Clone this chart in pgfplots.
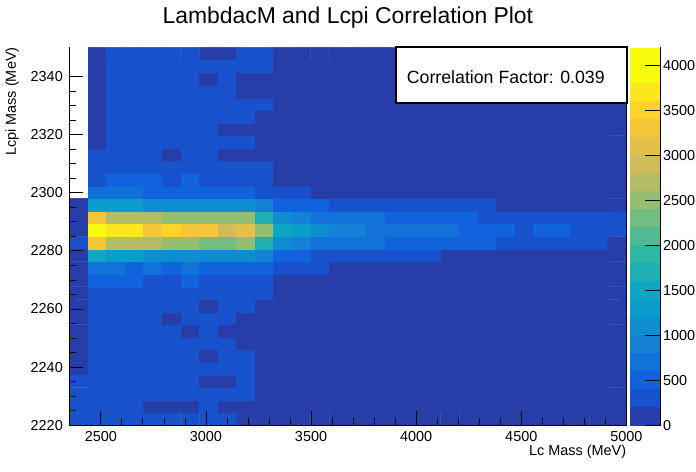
\documentclass[border=0pt]{standalone}
\usepackage{pgfplots}
\pgfplotsset{compat=1.18}
\usepackage{fontspec}
\setmainfont{Liberation Sans}
\newcommand{\tlfont}{\fontsize{14.5}{14.5}\selectfont}
\pgfplotstableread{
x y z
2394.2 2222.2 315
2482.5 2222.2 315
2570.8 2222.2 315
2659.2 2222.2 315
2747.5 2222.2 315
2835.8 2222.2 315
2924.2 2222.2 315
3012.5 2222.2 315
3100.8 2222.2 315
3189.2 2222.2 105
3277.5 2222.2 105
3365.8 2222.2 105
3454.2 2222.2 105
3542.5 2222.2 105
3630.8 2222.2 105
3719.2 2222.2 105
3807.5 2222.2 105
3895.8 2222.2 105
3984.2 2222.2 105
4072.5 2222.2 105
4160.8 2222.2 105
4249.2 2222.2 105
4337.5 2222.2 105
4425.8 2222.2 105
4514.2 2222.2 105
4602.5 2222.2 105
4690.8 2222.2 105
4779.2 2222.2 105
4867.5 2222.2 105
4955.8 2222.2 105
2394.2 2226.5 315
2482.5 2226.5 315
2570.8 2226.5 315
2659.2 2226.5 315
2747.5 2226.5 105
2835.8 2226.5 105
2924.2 2226.5 105
3012.5 2226.5 315
3100.8 2226.5 105
3189.2 2226.5 105
3277.5 2226.5 105
3365.8 2226.5 105
3454.2 2226.5 105
3542.5 2226.5 105
3630.8 2226.5 105
3719.2 2226.5 105
3807.5 2226.5 105
3895.8 2226.5 105
3984.2 2226.5 105
4072.5 2226.5 105
4160.8 2226.5 105
4249.2 2226.5 105
4337.5 2226.5 105
4425.8 2226.5 105
4514.2 2226.5 105
4602.5 2226.5 105
4690.8 2226.5 105
4779.2 2226.5 105
4867.5 2226.5 105
4955.8 2226.5 105
2394.2 2230.8 315
2482.5 2230.8 315
2570.8 2230.8 315
2659.2 2230.8 315
2747.5 2230.8 315
2835.8 2230.8 315
2924.2 2230.8 315
3012.5 2230.8 315
3100.8 2230.8 315
3189.2 2230.8 315
3277.5 2230.8 105
3365.8 2230.8 105
3454.2 2230.8 105
3542.5 2230.8 105
3630.8 2230.8 105
3719.2 2230.8 105
3807.5 2230.8 105
3895.8 2230.8 105
3984.2 2230.8 105
4072.5 2230.8 105
4160.8 2230.8 105
4249.2 2230.8 105
4337.5 2230.8 105
4425.8 2230.8 105
4514.2 2230.8 105
4602.5 2230.8 105
4690.8 2230.8 105
4779.2 2230.8 105
4867.5 2230.8 105
4955.8 2230.8 105
2394.2 2235.2 315
2482.5 2235.2 315
2570.8 2235.2 315
2659.2 2235.2 315
2747.5 2235.2 315
2835.8 2235.2 315
2924.2 2235.2 315
3012.5 2235.2 105
3100.8 2235.2 105
3189.2 2235.2 315
3277.5 2235.2 105
3365.8 2235.2 105
3454.2 2235.2 105
3542.5 2235.2 105
3630.8 2235.2 105
3719.2 2235.2 105
3807.5 2235.2 105
3895.8 2235.2 105
3984.2 2235.2 105
4072.5 2235.2 105
4160.8 2235.2 105
4249.2 2235.2 105
4337.5 2235.2 105
4425.8 2235.2 105
4514.2 2235.2 105
4602.5 2235.2 105
4690.8 2235.2 105
4779.2 2235.2 105
4867.5 2235.2 105
4955.8 2235.2 105
2394.2 2239.5 105
2482.5 2239.5 315
2570.8 2239.5 315
2659.2 2239.5 315
2747.5 2239.5 315
2835.8 2239.5 315
2924.2 2239.5 315
3012.5 2239.5 315
3100.8 2239.5 315
3189.2 2239.5 315
3277.5 2239.5 105
3365.8 2239.5 105
3454.2 2239.5 105
3542.5 2239.5 105
3630.8 2239.5 105
3719.2 2239.5 105
3807.5 2239.5 105
3895.8 2239.5 105
3984.2 2239.5 105
4072.5 2239.5 105
4160.8 2239.5 105
4249.2 2239.5 105
4337.5 2239.5 105
4425.8 2239.5 105
4514.2 2239.5 105
4602.5 2239.5 105
4690.8 2239.5 105
4779.2 2239.5 105
4867.5 2239.5 105
4955.8 2239.5 105
2394.2 2243.8 105
2482.5 2243.8 315
2570.8 2243.8 315
2659.2 2243.8 315
2747.5 2243.8 315
2835.8 2243.8 315
2924.2 2243.8 315
3012.5 2243.8 105
3100.8 2243.8 315
3189.2 2243.8 315
3277.5 2243.8 105
3365.8 2243.8 105
3454.2 2243.8 105
3542.5 2243.8 105
3630.8 2243.8 105
3719.2 2243.8 105
3807.5 2243.8 105
3895.8 2243.8 105
3984.2 2243.8 105
4072.5 2243.8 105
4160.8 2243.8 105
4249.2 2243.8 105
4337.5 2243.8 105
4425.8 2243.8 105
4514.2 2243.8 105
4602.5 2243.8 105
4690.8 2243.8 105
4779.2 2243.8 105
4867.5 2243.8 105
4955.8 2243.8 105
2394.2 2248.2 105
2482.5 2248.2 315
2570.8 2248.2 315
2659.2 2248.2 315
2747.5 2248.2 315
2835.8 2248.2 315
2924.2 2248.2 315
3012.5 2248.2 315
3100.8 2248.2 315
3189.2 2248.2 105
3277.5 2248.2 105
3365.8 2248.2 105
3454.2 2248.2 105
3542.5 2248.2 105
3630.8 2248.2 105
3719.2 2248.2 105
3807.5 2248.2 105
3895.8 2248.2 105
3984.2 2248.2 105
4072.5 2248.2 105
4160.8 2248.2 105
4249.2 2248.2 105
4337.5 2248.2 105
4425.8 2248.2 105
4514.2 2248.2 105
4602.5 2248.2 105
4690.8 2248.2 105
4779.2 2248.2 105
4867.5 2248.2 105
4955.8 2248.2 105
2394.2 2252.5 105
2482.5 2252.5 315
2570.8 2252.5 315
2659.2 2252.5 315
2747.5 2252.5 315
2835.8 2252.5 315
2924.2 2252.5 105
3012.5 2252.5 315
3100.8 2252.5 105
3189.2 2252.5 105
3277.5 2252.5 105
3365.8 2252.5 105
3454.2 2252.5 105
3542.5 2252.5 105
3630.8 2252.5 105
3719.2 2252.5 105
3807.5 2252.5 105
3895.8 2252.5 105
3984.2 2252.5 105
4072.5 2252.5 105
4160.8 2252.5 105
4249.2 2252.5 105
4337.5 2252.5 105
4425.8 2252.5 105
4514.2 2252.5 105
4602.5 2252.5 105
4690.8 2252.5 105
4779.2 2252.5 105
4867.5 2252.5 105
4955.8 2252.5 105
2394.2 2256.8 105
2482.5 2256.8 315
2570.8 2256.8 315
2659.2 2256.8 315
2747.5 2256.8 315
2835.8 2256.8 105
2924.2 2256.8 315
3012.5 2256.8 315
3100.8 2256.8 315
3189.2 2256.8 105
3277.5 2256.8 105
3365.8 2256.8 105
3454.2 2256.8 105
3542.5 2256.8 105
3630.8 2256.8 105
3719.2 2256.8 105
3807.5 2256.8 105
3895.8 2256.8 105
3984.2 2256.8 105
4072.5 2256.8 105
4160.8 2256.8 105
4249.2 2256.8 105
4337.5 2256.8 105
4425.8 2256.8 105
4514.2 2256.8 105
4602.5 2256.8 105
4690.8 2256.8 105
4779.2 2256.8 105
4867.5 2256.8 105
4955.8 2256.8 105
2394.2 2261.2 105
2482.5 2261.2 315
2570.8 2261.2 315
2659.2 2261.2 315
2747.5 2261.2 315
2835.8 2261.2 315
2924.2 2261.2 315
3012.5 2261.2 105
3100.8 2261.2 315
3189.2 2261.2 315
3277.5 2261.2 105
3365.8 2261.2 105
3454.2 2261.2 105
3542.5 2261.2 105
3630.8 2261.2 105
3719.2 2261.2 105
3807.5 2261.2 105
3895.8 2261.2 105
3984.2 2261.2 105
4072.5 2261.2 105
4160.8 2261.2 105
4249.2 2261.2 105
4337.5 2261.2 105
4425.8 2261.2 105
4514.2 2261.2 105
4602.5 2261.2 105
4690.8 2261.2 105
4779.2 2261.2 105
4867.5 2261.2 105
4955.8 2261.2 105
2394.2 2265.5 105
2482.5 2265.5 315
2570.8 2265.5 315
2659.2 2265.5 315
2747.5 2265.5 315
2835.8 2265.5 315
2924.2 2265.5 315
3012.5 2265.5 315
3100.8 2265.5 315
3189.2 2265.5 315
3277.5 2265.5 315
3365.8 2265.5 105
3454.2 2265.5 105
3542.5 2265.5 105
3630.8 2265.5 105
3719.2 2265.5 105
3807.5 2265.5 105
3895.8 2265.5 105
3984.2 2265.5 105
4072.5 2265.5 105
4160.8 2265.5 105
4249.2 2265.5 105
4337.5 2265.5 105
4425.8 2265.5 105
4514.2 2265.5 105
4602.5 2265.5 105
4690.8 2265.5 105
4779.2 2265.5 105
4867.5 2265.5 105
4955.8 2265.5 105
2394.2 2269.8 105
2482.5 2269.8 525
2570.8 2269.8 525
2659.2 2269.8 525
2747.5 2269.8 315
2835.8 2269.8 315
2924.2 2269.8 525
3012.5 2269.8 315
3100.8 2269.8 315
3189.2 2269.8 315
3277.5 2269.8 315
3365.8 2269.8 105
3454.2 2269.8 105
3542.5 2269.8 105
3630.8 2269.8 105
3719.2 2269.8 105
3807.5 2269.8 105
3895.8 2269.8 105
3984.2 2269.8 105
4072.5 2269.8 105
4160.8 2269.8 105
4249.2 2269.8 105
4337.5 2269.8 105
4425.8 2269.8 105
4514.2 2269.8 105
4602.5 2269.8 105
4690.8 2269.8 105
4779.2 2269.8 105
4867.5 2269.8 105
4955.8 2269.8 105
2394.2 2274.2 105
2482.5 2274.2 735
2570.8 2274.2 735
2659.2 2274.2 525
2747.5 2274.2 735
2835.8 2274.2 525
2924.2 2274.2 735
3012.5 2274.2 525
3100.8 2274.2 525
3189.2 2274.2 525
3277.5 2274.2 525
3365.8 2274.2 315
3454.2 2274.2 315
3542.5 2274.2 315
3630.8 2274.2 105
3719.2 2274.2 105
3807.5 2274.2 105
3895.8 2274.2 105
3984.2 2274.2 105
4072.5 2274.2 105
4160.8 2274.2 105
4249.2 2274.2 105
4337.5 2274.2 105
4425.8 2274.2 105
4514.2 2274.2 105
4602.5 2274.2 105
4690.8 2274.2 105
4779.2 2274.2 105
4867.5 2274.2 105
4955.8 2274.2 105
2394.2 2278.5 105
2482.5 2278.5 1575
2570.8 2278.5 1365
2659.2 2278.5 1365
2747.5 2278.5 1155
2835.8 2278.5 1155
2924.2 2278.5 1155
3012.5 2278.5 1155
3100.8 2278.5 1155
3189.2 2278.5 1155
3277.5 2278.5 945
3365.8 2278.5 525
3454.2 2278.5 525
3542.5 2278.5 315
3630.8 2278.5 315
3719.2 2278.5 315
3807.5 2278.5 315
3895.8 2278.5 315
3984.2 2278.5 315
4072.5 2278.5 315
4160.8 2278.5 105
4249.2 2278.5 105
4337.5 2278.5 105
4425.8 2278.5 105
4514.2 2278.5 105
4602.5 2278.5 105
4690.8 2278.5 105
4779.2 2278.5 105
4867.5 2278.5 105
4955.8 2278.5 105
2394.2 2282.8 315
2482.5 2282.8 3255
2570.8 2282.8 2625
2659.2 2282.8 2625
2747.5 2282.8 2625
2835.8 2282.8 2415
2924.2 2282.8 2415
3012.5 2282.8 2205
3100.8 2282.8 2205
3189.2 2282.8 2415
3277.5 2282.8 1785
3365.8 2282.8 1155
3454.2 2282.8 945
3542.5 2282.8 735
3630.8 2282.8 735
3719.2 2282.8 735
3807.5 2282.8 735
3895.8 2282.8 525
3984.2 2282.8 525
4072.5 2282.8 525
4160.8 2282.8 525
4249.2 2282.8 525
4337.5 2282.8 525
4425.8 2282.8 315
4514.2 2282.8 315
4602.5 2282.8 315
4690.8 2282.8 315
4779.2 2282.8 315
4867.5 2282.8 315
4955.8 2282.8 105
2394.2 2287.2 105
2482.5 2287.2 4095
2570.8 2287.2 3675
2659.2 2287.2 3675
2747.5 2287.2 3255
2835.8 2287.2 3465
2924.2 2287.2 3255
3012.5 2287.2 3255
3100.8 2287.2 2835
3189.2 2287.2 3045
3277.5 2287.2 2415
3365.8 2287.2 1575
3454.2 2287.2 1365
3542.5 2287.2 1155
3630.8 2287.2 945
3719.2 2287.2 945
3807.5 2287.2 735
3895.8 2287.2 735
3984.2 2287.2 735
4072.5 2287.2 735
4160.8 2287.2 735
4249.2 2287.2 525
4337.5 2287.2 525
4425.8 2287.2 525
4514.2 2287.2 315
4602.5 2287.2 525
4690.8 2287.2 525
4779.2 2287.2 315
4867.5 2287.2 315
4955.8 2287.2 315
2394.2 2291.5 105
2482.5 2291.5 3255
2570.8 2291.5 2625
2659.2 2291.5 2625
2747.5 2291.5 2625
2835.8 2291.5 2415
2924.2 2291.5 2415
3012.5 2291.5 2415
3100.8 2291.5 2415
3189.2 2291.5 2415
3277.5 2291.5 1785
3365.8 2291.5 1155
3454.2 2291.5 945
3542.5 2291.5 735
3630.8 2291.5 735
3719.2 2291.5 735
3807.5 2291.5 735
3895.8 2291.5 525
3984.2 2291.5 525
4072.5 2291.5 525
4160.8 2291.5 525
4249.2 2291.5 525
4337.5 2291.5 315
4425.8 2291.5 315
4514.2 2291.5 315
4602.5 2291.5 315
4690.8 2291.5 315
4779.2 2291.5 315
4867.5 2291.5 315
4955.8 2291.5 315
2394.2 2295.8 105
2482.5 2295.8 1365
2570.8 2295.8 1365
2659.2 2295.8 1365
2747.5 2295.8 1155
2835.8 2295.8 1155
2924.2 2295.8 1155
3012.5 2295.8 1155
3100.8 2295.8 1155
3189.2 2295.8 1155
3277.5 2295.8 945
3365.8 2295.8 525
3454.2 2295.8 525
3542.5 2295.8 525
3630.8 2295.8 315
3719.2 2295.8 315
3807.5 2295.8 315
3895.8 2295.8 315
3984.2 2295.8 315
4072.5 2295.8 315
4160.8 2295.8 315
4249.2 2295.8 315
4337.5 2295.8 315
4425.8 2295.8 105
4514.2 2295.8 105
4602.5 2295.8 105
4690.8 2295.8 105
4779.2 2295.8 105
4867.5 2295.8 105
4955.8 2295.8 105
2394.2 2300.2 0
2482.5 2300.2 735
2570.8 2300.2 735
2659.2 2300.2 735
2747.5 2300.2 525
2835.8 2300.2 525
2924.2 2300.2 525
3012.5 2300.2 525
3100.8 2300.2 525
3189.2 2300.2 525
3277.5 2300.2 315
3365.8 2300.2 315
3454.2 2300.2 315
3542.5 2300.2 105
3630.8 2300.2 105
3719.2 2300.2 105
3807.5 2300.2 105
3895.8 2300.2 105
3984.2 2300.2 105
4072.5 2300.2 105
4160.8 2300.2 105
4249.2 2300.2 105
4337.5 2300.2 105
4425.8 2300.2 105
4514.2 2300.2 105
4602.5 2300.2 105
4690.8 2300.2 105
4779.2 2300.2 105
4867.5 2300.2 105
4955.8 2300.2 105
2394.2 2304.5 0
2482.5 2304.5 315
2570.8 2304.5 525
2659.2 2304.5 525
2747.5 2304.5 525
2835.8 2304.5 315
2924.2 2304.5 525
3012.5 2304.5 315
3100.8 2304.5 315
3189.2 2304.5 315
3277.5 2304.5 315
3365.8 2304.5 105
3454.2 2304.5 105
3542.5 2304.5 105
3630.8 2304.5 105
3719.2 2304.5 105
3807.5 2304.5 105
3895.8 2304.5 105
3984.2 2304.5 105
4072.5 2304.5 105
4160.8 2304.5 105
4249.2 2304.5 105
4337.5 2304.5 105
4425.8 2304.5 105
4514.2 2304.5 105
4602.5 2304.5 105
4690.8 2304.5 105
4779.2 2304.5 105
4867.5 2304.5 105
4955.8 2304.5 105
2394.2 2308.8 0
2482.5 2308.8 315
2570.8 2308.8 315
2659.2 2308.8 315
2747.5 2308.8 315
2835.8 2308.8 315
2924.2 2308.8 315
3012.5 2308.8 315
3100.8 2308.8 315
3189.2 2308.8 315
3277.5 2308.8 315
3365.8 2308.8 105
3454.2 2308.8 105
3542.5 2308.8 105
3630.8 2308.8 105
3719.2 2308.8 105
3807.5 2308.8 105
3895.8 2308.8 105
3984.2 2308.8 105
4072.5 2308.8 105
4160.8 2308.8 105
4249.2 2308.8 105
4337.5 2308.8 105
4425.8 2308.8 105
4514.2 2308.8 105
4602.5 2308.8 105
4690.8 2308.8 105
4779.2 2308.8 105
4867.5 2308.8 105
4955.8 2308.8 105
2394.2 2313.2 0
2482.5 2313.2 315
2570.8 2313.2 315
2659.2 2313.2 315
2747.5 2313.2 315
2835.8 2313.2 105
2924.2 2313.2 315
3012.5 2313.2 315
3100.8 2313.2 105
3189.2 2313.2 105
3277.5 2313.2 105
3365.8 2313.2 105
3454.2 2313.2 105
3542.5 2313.2 105
3630.8 2313.2 105
3719.2 2313.2 105
3807.5 2313.2 105
3895.8 2313.2 105
3984.2 2313.2 105
4072.5 2313.2 105
4160.8 2313.2 105
4249.2 2313.2 105
4337.5 2313.2 105
4425.8 2313.2 105
4514.2 2313.2 105
4602.5 2313.2 105
4690.8 2313.2 105
4779.2 2313.2 105
4867.5 2313.2 105
4955.8 2313.2 105
2394.2 2317.5 0
2482.5 2317.5 105
2570.8 2317.5 315
2659.2 2317.5 315
2747.5 2317.5 315
2835.8 2317.5 315
2924.2 2317.5 315
3012.5 2317.5 315
3100.8 2317.5 315
3189.2 2317.5 315
3277.5 2317.5 105
3365.8 2317.5 105
3454.2 2317.5 105
3542.5 2317.5 105
3630.8 2317.5 105
3719.2 2317.5 105
3807.5 2317.5 105
3895.8 2317.5 105
3984.2 2317.5 105
4072.5 2317.5 105
4160.8 2317.5 105
4249.2 2317.5 105
4337.5 2317.5 105
4425.8 2317.5 105
4514.2 2317.5 105
4602.5 2317.5 105
4690.8 2317.5 105
4779.2 2317.5 105
4867.5 2317.5 105
4955.8 2317.5 105
2394.2 2321.8 0
2482.5 2321.8 105
2570.8 2321.8 315
2659.2 2321.8 315
2747.5 2321.8 315
2835.8 2321.8 315
2924.2 2321.8 315
3012.5 2321.8 315
3100.8 2321.8 105
3189.2 2321.8 105
3277.5 2321.8 105
3365.8 2321.8 105
3454.2 2321.8 105
3542.5 2321.8 105
3630.8 2321.8 105
3719.2 2321.8 105
3807.5 2321.8 105
3895.8 2321.8 105
3984.2 2321.8 105
4072.5 2321.8 105
4160.8 2321.8 105
4249.2 2321.8 105
4337.5 2321.8 105
4425.8 2321.8 105
4514.2 2321.8 105
4602.5 2321.8 105
4690.8 2321.8 105
4779.2 2321.8 105
4867.5 2321.8 105
4955.8 2321.8 105
2394.2 2326.2 0
2482.5 2326.2 105
2570.8 2326.2 315
2659.2 2326.2 315
2747.5 2326.2 315
2835.8 2326.2 315
2924.2 2326.2 315
3012.5 2326.2 315
3100.8 2326.2 315
3189.2 2326.2 315
3277.5 2326.2 105
3365.8 2326.2 105
3454.2 2326.2 105
3542.5 2326.2 105
3630.8 2326.2 105
3719.2 2326.2 105
3807.5 2326.2 105
3895.8 2326.2 105
3984.2 2326.2 105
4072.5 2326.2 105
4160.8 2326.2 105
4249.2 2326.2 105
4337.5 2326.2 105
4425.8 2326.2 105
4514.2 2326.2 105
4602.5 2326.2 105
4690.8 2326.2 105
4779.2 2326.2 105
4867.5 2326.2 105
4955.8 2326.2 105
2394.2 2330.5 0
2482.5 2330.5 105
2570.8 2330.5 315
2659.2 2330.5 315
2747.5 2330.5 315
2835.8 2330.5 315
2924.2 2330.5 315
3012.5 2330.5 315
3100.8 2330.5 315
3189.2 2330.5 315
3277.5 2330.5 315
3365.8 2330.5 105
3454.2 2330.5 105
3542.5 2330.5 105
3630.8 2330.5 105
3719.2 2330.5 105
3807.5 2330.5 105
3895.8 2330.5 105
3984.2 2330.5 105
4072.5 2330.5 105
4160.8 2330.5 105
4249.2 2330.5 105
4337.5 2330.5 105
4425.8 2330.5 105
4514.2 2330.5 105
4602.5 2330.5 105
4690.8 2330.5 105
4779.2 2330.5 105
4867.5 2330.5 105
4955.8 2330.5 105
2394.2 2334.8 0
2482.5 2334.8 105
2570.8 2334.8 315
2659.2 2334.8 315
2747.5 2334.8 315
2835.8 2334.8 315
2924.2 2334.8 315
3012.5 2334.8 315
3100.8 2334.8 315
3189.2 2334.8 105
3277.5 2334.8 105
3365.8 2334.8 105
3454.2 2334.8 105
3542.5 2334.8 105
3630.8 2334.8 105
3719.2 2334.8 105
3807.5 2334.8 105
3895.8 2334.8 105
3984.2 2334.8 105
4072.5 2334.8 105
4160.8 2334.8 105
4249.2 2334.8 105
4337.5 2334.8 105
4425.8 2334.8 105
4514.2 2334.8 105
4602.5 2334.8 105
4690.8 2334.8 105
4779.2 2334.8 105
4867.5 2334.8 105
4955.8 2334.8 105
2394.2 2339.2 0
2482.5 2339.2 105
2570.8 2339.2 315
2659.2 2339.2 315
2747.5 2339.2 315
2835.8 2339.2 315
2924.2 2339.2 315
3012.5 2339.2 105
3100.8 2339.2 315
3189.2 2339.2 105
3277.5 2339.2 105
3365.8 2339.2 105
3454.2 2339.2 105
3542.5 2339.2 105
3630.8 2339.2 105
3719.2 2339.2 105
3807.5 2339.2 105
3895.8 2339.2 105
3984.2 2339.2 105
4072.5 2339.2 105
4160.8 2339.2 105
4249.2 2339.2 105
4337.5 2339.2 105
4425.8 2339.2 105
4514.2 2339.2 105
4602.5 2339.2 105
4690.8 2339.2 105
4779.2 2339.2 105
4867.5 2339.2 105
4955.8 2339.2 105
2394.2 2343.5 0
2482.5 2343.5 105
2570.8 2343.5 315
2659.2 2343.5 315
2747.5 2343.5 315
2835.8 2343.5 315
2924.2 2343.5 315
3012.5 2343.5 315
3100.8 2343.5 315
3189.2 2343.5 315
3277.5 2343.5 315
3365.8 2343.5 105
3454.2 2343.5 105
3542.5 2343.5 105
3630.8 2343.5 105
3719.2 2343.5 105
3807.5 2343.5 105
3895.8 2343.5 105
3984.2 2343.5 105
4072.5 2343.5 105
4160.8 2343.5 105
4249.2 2343.5 105
4337.5 2343.5 105
4425.8 2343.5 105
4514.2 2343.5 105
4602.5 2343.5 105
4690.8 2343.5 105
4779.2 2343.5 105
4867.5 2343.5 105
4955.8 2343.5 105
2394.2 2347.8 0
2482.5 2347.8 105
2570.8 2347.8 315
2659.2 2347.8 315
2747.5 2347.8 315
2835.8 2347.8 315
2924.2 2347.8 315
3012.5 2347.8 105
3100.8 2347.8 105
3189.2 2347.8 315
3277.5 2347.8 315
3365.8 2347.8 105
3454.2 2347.8 105
3542.5 2347.8 105
3630.8 2347.8 105
3719.2 2347.8 105
3807.5 2347.8 105
3895.8 2347.8 105
3984.2 2347.8 105
4072.5 2347.8 105
4160.8 2347.8 105
4249.2 2347.8 105
4337.5 2347.8 105
4425.8 2347.8 105
4514.2 2347.8 105
4602.5 2347.8 105
4690.8 2347.8 105
4779.2 2347.8 105
4867.5 2347.8 105
4955.8 2347.8 105
}\histdata
\begin{document}
\begin{tikzpicture}
\useasboundingbox (0,0) rectangle (696bp,472bp);
\begin{axis}[
  at={(69.3bp,46.7bp)}, anchor=south west,
  scale only axis, width=557.1bp, height=378bp,
  xmin=2350, xmax=5000, ymin=2220, ymax=2350,
  clip=false, axis on top,
  axis line style={draw=none},
  xtick={2500,3000,...,5000}, minor x tick num=4,
  ytick={2220,2240,...,2340}, minor y tick num=3,
  xtick pos=left, ytick pos=left, tick align=inside,
  major tick length=14bp, minor tick length=7bp,
  every tick/.style={black, line width=0.8bp},
  /pgf/number format/1000 sep={}, /pgf/number format/assume math mode=true,
  tick label style={font=\tlfont, inner sep=0pt},
  xticklabel style={anchor=base, yshift=-15.7bp},
  yticklabel style={anchor=east, xshift=-6.3bp},
  title={LambdacM and Lcpi Correlation Plot},
  title style={at={(0.5,1)}, anchor=base, yshift=18.3bp, inner sep=0pt, font=\fontsize{23}{23}\selectfont},
  xlabel={Lc Mass (MeV)},
  ylabel={Lcpi Mass (MeV)},
  every axis x label/.style={at={(1,0)}, anchor=base east, yshift=-29.7bp, inner sep=0pt, font=\tlfont},
  every axis y label/.style={at={(0,1)}, xshift=-53.3bp, rotate=90, anchor=base east, inner sep=0pt, font=\tlfont},
  colormap={rootbird}{rgb255=(39,61,168) rgb255=(23,81,203) rgb255=(16,99,220) rgb255=(18,113,217) rgb255=(20,128,214) rgb255=(14,142,209) rgb255=(9,157,204) rgb255=(13,167,195) rgb255=(30,175,179) rgb255=(46,183,164) rgb255=(82,186,145) rgb255=(116,189,128) rgb255=(150,190,113) rgb255=(180,189,101) rgb255=(209,187,89) rgb255=(227,192,74) rgb255=(245,198,58) rgb255=(253,211,42) rgb255=(251,232,28) rgb255=(249,251,14) rgb255=(249,251,14)},
  colormap access=piecewise constant,
  point meta min=0, point meta max=4200,
  colorbar,
  colorbar style={
    at={(parent axis.north east)}, anchor=north west, xshift=-5.6bp,
    width=31.6bp,
    axis x line=none, axis y line*=right,
    ytick={0,500,...,4000}, minor tick num=0,
    tick align=inside, major tick length=15.7bp,
    every tick/.style={black, line width=0.8bp},
    axis line style={black, line width=1bp},
    /pgf/number format/1000 sep={}, /pgf/number format/assume math mode=true,
    yticklabel style={font=\tlfont, anchor=west, xshift=2bp, inner sep=0pt},
  },
]
\addplot[matrix plot*, mesh/cols=30, point meta=explicit] table[x=x, y=y, meta=z] {\histdata};
\addplot[fill=white, draw=none] coordinates {(2350,2298) (2438.35,2298) (2438.35,2350) (2350,2350)} -- cycle;
\draw[black, line width=1bp] (rel axis cs:0,1) -- (rel axis cs:0,0) -- (rel axis cs:1,0) -- (rel axis cs:1,1);
\draw[black, fill=white, line width=1.5bp] (rel axis cs:0.5864,0.8526) rectangle (rel axis cs:1.0011,1.0008);
\node[anchor=base west, inner sep=0pt, font=\fontsize{17.8}{17.8}\selectfont] at (rel axis cs:0.6056,0.9048) {Correlation Factor: 0.039};
\end{axis}
\end{tikzpicture}
\end{document}
